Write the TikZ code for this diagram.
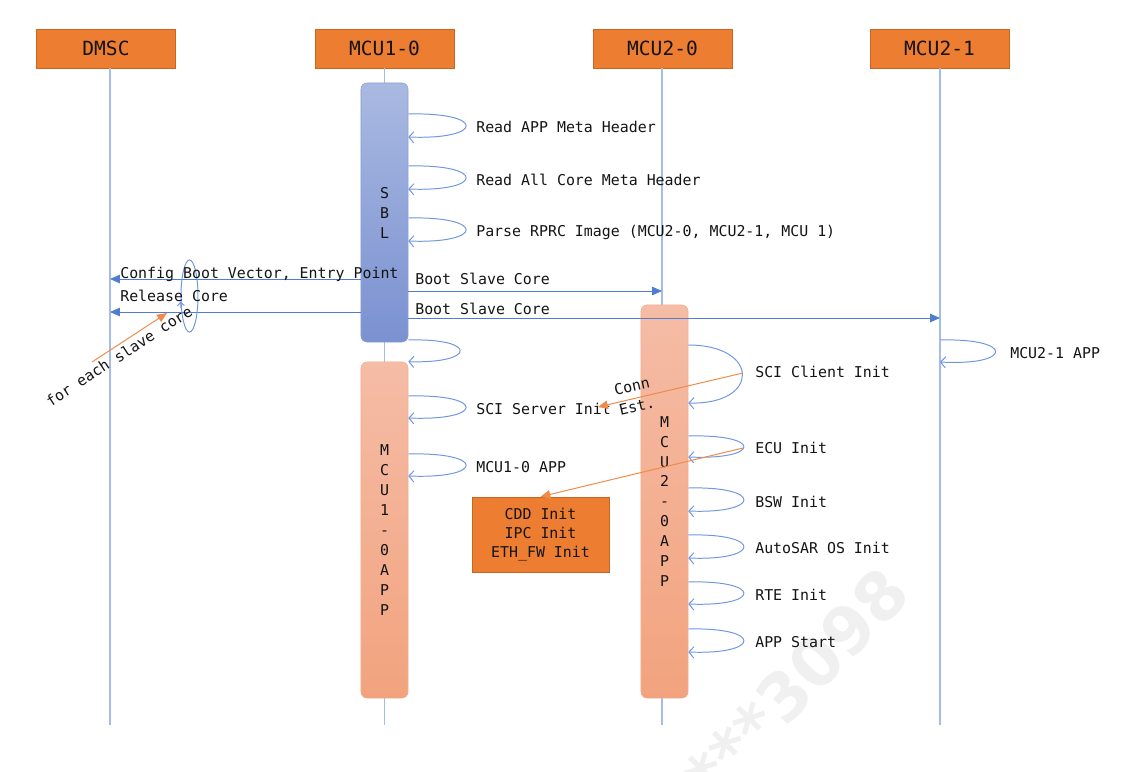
\documentclass[tikz,border=0pt]{standalone}
\usepackage{fontspec}
\setmainfont{DejaVu Sans Mono}
\newfontfamily\wmfont{DejaVu Sans}
\usetikzlibrary{arrows.meta,shapes.geometric}
\definecolor{hdrFill}{HTML}{ED7D31}
\definecolor{hdrDraw}{HTML}{C8661F}
\definecolor{txt}{HTML}{141414}
\definecolor{lifeColor}{HTML}{A4BDE8}
\definecolor{loopColor}{HTML}{6F97E0}
\definecolor{msgColor}{HTML}{4F7ED0}
\definecolor{sblTop}{HTML}{A9B9E1}
\definecolor{sblBot}{HTML}{7B91D1}
\definecolor{sblDraw}{HTML}{8CA0D6}
\definecolor{appTop}{HTML}{F5BCA6}
\definecolor{appBot}{HTML}{F2A37E}
\definecolor{appDraw}{HTML}{F3AE90}
\definecolor{noteColor}{HTML}{F08A4B}
\definecolor{wmColor}{HTML}{F0F0F0}

\begin{document}
\begin{tikzpicture}[
	x=0.025cm, y=-0.025cm,
	head/.style={
		rectangle,
		draw=hdrDraw,
		fill=hdrFill,
		minimum width=3.475cm,
		minimum height=0.975cm,
		text=txt,
		font=\fontsize{13.9}{16}\selectfont,
	},
	bar/.style={% activation bars
		rectangle,
		rounded corners=1.5mm,
		minimum width=1.175cm,
		inner sep=0pt,
		align=center,
		text=txt,
		font=\fontsize{10.6}{14.2}\selectfont,
	},
	sblbar/.style={bar, draw=sblDraw, top color=sblTop, bottom color=sblBot},
	appbar/.style={bar, draw=appDraw, top color=appTop, bottom color=appBot},
	note/.style={
		rectangle,
		draw=hdrDraw,
		fill=hdrFill,
		minimum width=3.425cm,
		minimum height=1.875cm,
		align=center,
		text=txt,
		font=\fontsize{10.6}{13.5}\selectfont,
	},
	lbl/.style={anchor=west, inner sep=0pt, text height=7.7pt, text depth=0pt, text=txt, font=\fontsize{10.6}{13}\selectfont},
	notelbl/.style={inner sep=0pt, text=txt, font=\fontsize{10.6}{13}\selectfont},
	wm/.style={inner sep=0pt, rotate=46, text=wmColor, font=\wmfont\bfseries\fontsize{47}{47}\selectfont},
	Life/.style={draw=lifeColor, line width=0.8pt},
	ArrowMsg/.style={msgColor, line width=0.7pt, -{Triangle[length=7pt,width=6pt]}},
	ArrowSelf/.style={% open arrows of the self calls
		loopColor,
		line width=0.7pt,
		-{Straight Barb[length=3.5pt,width=8pt]},
	},
	ArrowNote/.style={noteColor, line width=0.7pt, -{Triangle[length=7pt,width=6pt]}},
]
	\useasboundingbox (0,0) rectangle (1140,771);

	\node[wm] (wmark) at (832,646) {3098};
	\node[wm, anchor=east] (wstar) at (wmark.west) {***};

	\coordinate (dmscEnd) at (110,725);
	\coordinate (mcuaEnd) at (384.5,725);
	\coordinate (mcubEnd) at (662,725);
	\coordinate (mcucEnd) at (940,725);

	\node[head] (dmsc) at (106,48.5) {DMSC};
	\node[head] (mcua) at (384.5,48.5) {MCU1-0};
	\node[head] (mcub) at (662.5,48.5) {MCU2-0};
	\node[head] (mcuc) at (939.5,48.5) {MCU2-1};

	\draw[Life] (dmsc.south -| dmscEnd) -- (dmscEnd);
	\draw[Life] (mcua) -- (mcuaEnd);
	\draw[Life] (mcub.south -| mcubEnd) -- (mcubEnd);
	\draw[Life] (mcuc.south -| mcucEnd) -- (mcucEnd);

	\node[sblbar, minimum height=6.475cm] (sbl) at (384.5,212.5) {S\\B\\L};
	\node[appbar, minimum height=8.4cm] (apa) at (384.5,530) {M\\C\\U\\1\\-\\0\\A\\P\\P};
	\node[appbar, minimum height=9.825cm] (apb) at (664.5,501.5) {M\\C\\U\\2\\-\\0\\A\\P\\P};

	% self calls
	\foreach \ya/\yb/\yl/\txt [count=\i] in {114/137/127/Read APP Meta Header, 166/189/180/Read All Core Meta Header, 218/241/231/{Parse RPRC Image (MCU2-0, MCU2-1, MCU 1)}}{
		\draw[ArrowSelf] (sbl.east |- 0,\ya) .. controls +(78,-2) and +(76,3) .. (sbl.east |- 0,\yb);
		\node[lbl] (sblTxt\i) at (476,\yl) {\txt};
	}
	\draw[ArrowSelf] (sbl.east |- 0,340) .. controls +(70,-2) and +(68,2) .. (apa.north east);
	\foreach \ya/\yb/\yl/\txt [count=\i] in {396/418/409/SCI Server Init, 454/476/467/MCU1-0 APP}{
		\draw[ArrowSelf] (apa.east |- 0,\ya) .. controls +(78,-2) and +(76,3) .. (apa.east |- 0,\yb);
		\node[lbl] (apaTxt\i) at (476,\yl) {\txt};
	}
	\draw[ArrowSelf] (apb.east |- 0,345) .. controls +(72,0) and +(72,2) .. (apb.east |- 0,403);
	\node[lbl] (sciTxt) at (755,372) {SCI Client Init};
	\foreach \ya/\yb/\yl/\txt [count=\i] in {436/457/448/ECU Init, 488/511/502/BSW Init, 535/558/548/AutoSAR OS Init, 582/604/595/RTE Init, 629/652/642/APP Start}{
		\draw[ArrowSelf] (apb.east |- 0,\ya) .. controls +(75,-2) and +(73,3) .. (apb.east |- 0,\yb);
		\node[lbl] (apbTxt\i) at (755,\yl) {\txt};
	}
	\draw[ArrowSelf] (mcucEnd |- 0,340) .. controls +(75,-2) and +(73,4) .. (mcucEnd |- 0,362);
	\node[lbl] (mcucTxt) at (1010,353) {MCU2-1 APP};

	% messages
	\draw[ArrowMsg] (sbl.west |- 0,279) -- (dmscEnd |- 0,279);
	\draw[ArrowMsg] (sbl.west |- 0,312) -- (dmscEnd |- 0,312);
	\draw[ArrowMsg] (sbl.east |- 0,291) -- (mcubEnd |- 0,291);
	\draw[ArrowMsg] (sbl.east |- 0,318) -- (mcucEnd |- 0,318);

	\node[ellipse, draw=loopColor, line width=0.7pt, minimum width=0.425cm, minimum height=1.8cm, inner sep=0pt] (each) at (189.5,296) {};
	\draw[loopColor, line width=0.7pt, -{Straight Barb[length=2.5pt,width=5pt]}] (each.235) -- (each.212);

	\node[lbl] (cfgTxt) at (120,273) {Config Boot Vector, Entry Point};
	\node[lbl] (relTxt) at (120,296) {Release Core};
	\node[lbl] (bootTxtA) at (415,279) {Boot Slave Core};
	\node[lbl] (bootTxtB) at (415,309) {Boot Slave Core};

	\node[note] (cdd) at (540.5,534.5) {CDD Init\\ IPC Init\\ETH\_FW Init};

	% notes
	\coordinate (forFrom) at (92,362);
	\coordinate (forTo) at (167,313);
	\draw[ArrowNote] (forFrom) -- (forTo);
	\node[notelbl, rotate=33] (forTxt) at (119,356) {for each slave core};

	\coordinate (connFrom) at (743,373);
	\coordinate (connTo) at (598,407);
	\draw[ArrowNote] (connFrom) -- (connTo);
	\node[notelbl, rotate=13] (connTxt) at (632,386) {Conn};
	\node[notelbl, rotate=13] (estTxt) at (637,406) {Est.};

	\coordinate (ecuFrom) at (743,448);
	\draw[ArrowNote] (ecuFrom) -- (cdd.north);
\end{tikzpicture}
\end{document}
